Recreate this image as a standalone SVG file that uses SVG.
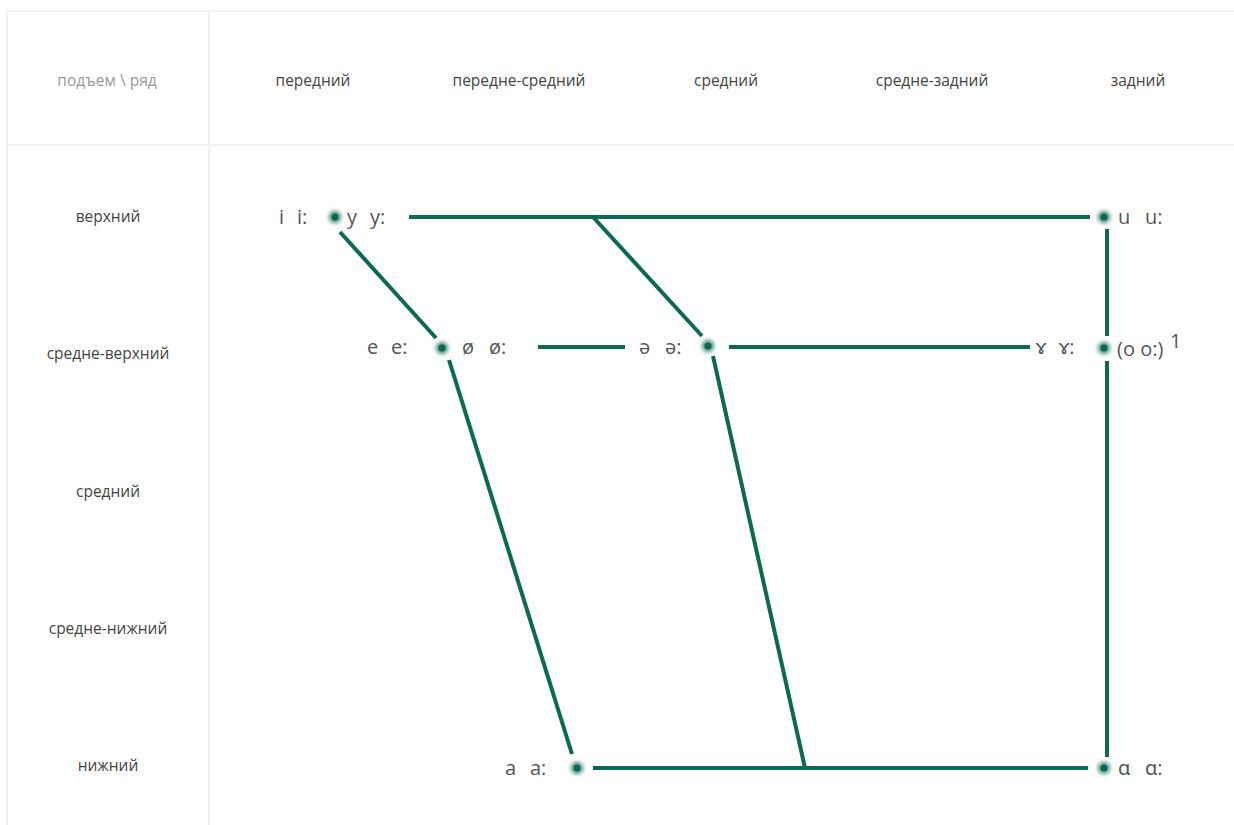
<svg xmlns="http://www.w3.org/2000/svg" width="1234" height="825" viewBox="0 0 1234 825">
<style>
.grid{stroke:#f2f2f2;stroke-width:2;fill:none}
.hdr{font-family:"Open Sans","Noto Sans","Liberation Sans",sans-serif;font-size:15.5px;fill:#444;text-anchor:middle}
.corner{fill:#9a9a9a}
.v{font-family:"Open Sans","Noto Sans","Liberation Sans",sans-serif;font-size:20px;fill:#555}
.ln{stroke:#0a6b55;stroke-width:4;fill:none}
</style>
<defs>
<filter id="glow" x="-1" y="-1" width="3" height="3"><feGaussianBlur stdDeviation="2"/></filter>
<g id="dot"><circle r="6" fill="#0a6b55" filter="url(#glow)" opacity="0.8"/><circle r="3.5" fill="#0a6b55"/></g>
</defs>
<rect width="1234" height="825" fill="#fff"/>
<g id="table">
<path class="grid" d="M7 825V11H1234M209 11V825M7 145H1234"/>
<text class="hdr corner" x="107" y="86">подъем \ ряд</text>
<text class="hdr" x="313" y="86">передний</text>
<text class="hdr" x="519" y="86">передне-средний</text>
<text class="hdr" x="726" y="86">средний</text>
<text class="hdr" x="932" y="86">средне-задний</text>
<text class="hdr" x="1138" y="86">задний</text>
<text class="hdr" x="108" y="222">верхний</text>
<text class="hdr" x="108" y="359">средне-верхний</text>
<text class="hdr" x="108" y="497">средний</text>
<text class="hdr" x="108" y="634">средне-нижний</text>
<text class="hdr" x="108" y="771">нижний</text>
</g>
<g id="connectors">
<line class="ln" x1="409" y1="217" x2="1090" y2="217"/>
<line class="ln" x1="593" y1="217" x2="702" y2="336"/>
<line class="ln" x1="340" y1="232" x2="436" y2="338"/>
<line class="ln" x1="538" y1="347" x2="625" y2="347"/>
<line class="ln" x1="729" y1="347" x2="1030" y2="347"/>
<line class="ln" x1="449" y1="360" x2="572" y2="754"/>
<line class="ln" x1="713" y1="356" x2="805" y2="768"/>
<line class="ln" x1="593" y1="768" x2="1088" y2="768"/>
<line class="ln" x1="1107" y1="229" x2="1107" y2="336"/>
<line class="ln" x1="1107" y1="361" x2="1107" y2="757"/>
</g>
<g id="node-iy">
<use href="#dot" x="335" y="217"/>
<text class="v" x="279" y="224">i</text><text class="v" x="297" y="224">i:</text>
<text class="v" x="347" y="224">y</text><text class="v" x="370" y="224">y:</text>
</g>
<g id="node-u">
<use href="#dot" x="1104" y="217"/>
<text class="v" x="1118" y="224">u</text><text class="v" x="1145" y="224">u:</text>
</g>
<g id="node-e">
<use href="#dot" x="442" y="348"/>
<text class="v" x="367" y="354">e</text><text class="v" x="391" y="354">e:</text>
<text class="v" x="462" y="354">ø</text><text class="v" x="489" y="354">ø:</text>
</g>
<g id="node-schwa">
<use href="#dot" x="708" y="346"/>
<text class="v" x="639" y="354">ə</text><text class="v" x="665" y="354">ə:</text>
</g>
<g id="node-o">
<use href="#dot" x="1104" y="348"/>
<text class="v" x="1036" y="354">ɤ</text><text class="v" x="1059" y="354">ɤ:</text>
<text class="v" x="1117" y="356">(o o:)</text><text class="v" x="1170" y="348" font-size="13">1</text>
</g>
<g id="node-a">
<use href="#dot" x="577" y="768"/>
<text class="v" x="505" y="775">a</text><text class="v" x="530" y="775">a:</text>
</g>
<g id="node-alpha">
<use href="#dot" x="1104" y="768"/>
<text class="v" x="1118" y="775">ɑ</text><text class="v" x="1145" y="775">ɑ:</text>
</g>
</svg>
